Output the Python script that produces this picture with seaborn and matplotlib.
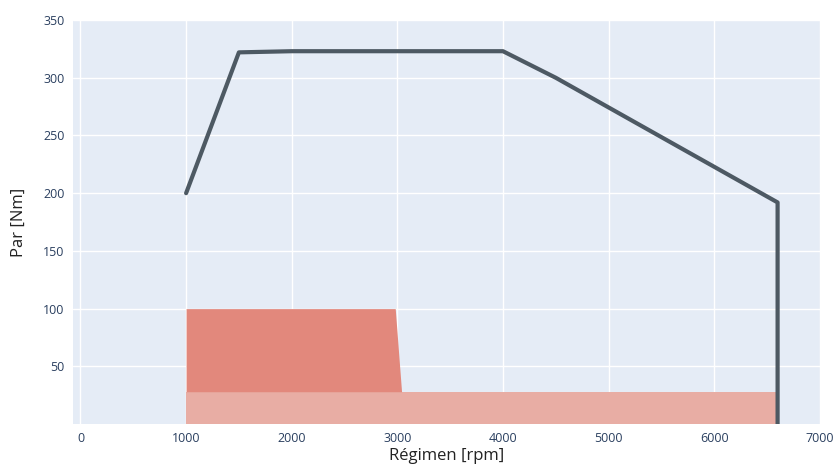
import numpy as np
import pandas as pd
import seaborn as sns
import matplotlib.pyplot as plt

# curva de par máximo
rpm = [1000, 1500, 2000, 4000, 4500, 6600, 6600]
par = [200, 322, 323, 323, 300, 192, 0]

# zona de uso alta (hasta 100 Nm)
zona_alta_rpm = [1000, 2980, 3040]
zona_alta_par = [100, 100, 28]

# zona de uso baja
zona_baja_rpm = [1000, 6600]
zona_baja_par = [28, 28]

x_ticks = [0, 1000, 2000, 3000, 4000, 5000, 6000, 7000]
y_ticks = [50, 100, 150, 200, 250, 300, 350]

sns.set_style("whitegrid", {
    "axes.facecolor": "#E5ECF6",
    "grid.color": "white",
    "axes.edgecolor": "#E5ECF6",
})
plt.rcParams['font.family'] = ['Open Sans', 'DejaVu Sans']

fig = plt.figure(figsize=(8.4, 4.66), dpi=100)
ax = fig.add_axes([0.087, 0.09, 0.889, 0.867])

# zonas rellenas
ax.fill_between(zona_baja_rpm, 0, zona_baja_par, color="#E8ADA4", lw=0, zorder=2)
ax.fill_between(zona_alta_rpm, 28, zona_alta_par, color="#E2887C", lw=0, zorder=2)

df = pd.DataFrame({"rpm": rpm, "par": par})
sns.lineplot(data=df, x="rpm", y="par", sort=False, estimator=None,
             color="#4D5963", lw=3, ax=ax, zorder=3)

ax.set_xlim(-70, 7000)
ax.set_ylim(0, 350)
ax.set_xticks(x_ticks)
ax.set_yticks(y_ticks)
ax.tick_params(axis="both", length=0, labelsize=9, colors="#2A3F5F", pad=6)
ax.grid(True, color="white", lw=1)
for s in ax.spines.values():
    s.set_visible(False)

ax.set_xlabel("Régimen [rpm]", fontsize=12, color="#222222", labelpad=2)
ax.set_ylabel("Par [Nm]", fontsize=12, color="#222222", labelpad=12)

fig.savefig("out.png", dpi=100)
